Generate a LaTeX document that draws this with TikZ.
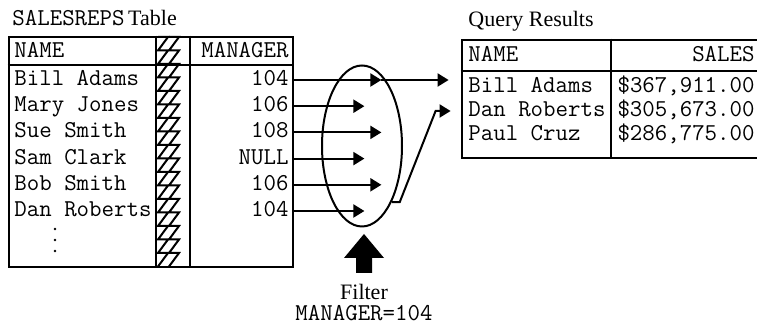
\documentclass[tikz,border=0pt]{standalone}
\usepackage{fontspec}
\setmainfont{Liberation Serif}
\usetikzlibrary{arrows.meta,positioning,shapes.geometric,calc}
\newcommand{\mono}{\ttfamily\fontsize{12.1}{13}\selectfont}
\tikzset{
    tbl/.style={ % table frame
        rectangle,
        draw=black,
        line width=1.4pt,
        inner sep=0pt
        },
    cell/.style={ % text of one cell
        font=\mono,
        text height=7.5pt,
        text depth=2pt,
        inner sep=0pt
        },
    lcell/.style={
        cell,
        anchor=west
        },
    rcell/.style={
        cell,
        anchor=east
        },
    capt/.style={ % serif caption
        font=\fontsize{11}{13}\selectfont,
        inner sep=0pt
        },
    grid/.style={
        line width=1.4pt
        },
    zz/.style={ % broken column
        line width=1pt,
        line join=miter
        },
    arrout/.style={
        line width=1pt,
        -{Triangle[length=5.5pt,width=6.5pt]}
        },
    filt/.style={
        ellipse,
        draw=black,
        line width=1pt,
        minimum width=40pt,
        minimum height=80.5pt,
        inner sep=0pt
        }
}
\begin{document}
\begin{tikzpicture}[x=0.5pt,y=-0.5pt]
\useasboundingbox (0,0) rectangle (757,325);
\clip (0,0) rectangle (757,325);

%%%%% table SALESREPS
\node[tbl, minimum width=142pt, minimum height=115pt] (reps) at (151,152) {};
\node[capt, anchor=base west] (lreps) at (12,26) {{\mono SALESREPS}\,Table};
\coordinate (c1) at (156,0);
\coordinate (c2) at (190,0);
\coordinate (hd) at (0,65);
\draw[grid] (reps.west |- hd) -- (reps.east |- hd);
\draw[grid] (reps.north -| c1) -- (reps.south -| c1);
\draw[grid] (reps.north -| c2) -- (reps.south -| c2);

%%%%% broken columns
\foreach \zx in {158,169}
  \draw[zz] (\zx,37) \foreach \k in {1,...,17} { -- ++(10,0) -- ++(-10,13.5) };

%%%%% rows of SALESREPS
\node[lcell] (hn) at (14,52) {NAME};
\node[rcell] (hm) at (289,52) {MANAGER};
\foreach \nm/\mg [count=\i] in {Bill Adams/104, Mary Jones/106, Sue Smith/108,
                                Sam Clark/NULL, Bob Smith/106, Dan Roberts/104} {
  \node[lcell] (n\i) at (14,{53.8+26.2*\i}) {\nm};
  \node[rcell] (m\i) at (289,{53.8+26.2*\i}) {\mg};
}
\foreach \dy in {229,240,251}
  \fill (55,\dy) circle (1.3);

%%%%% table of query results
\node[tbl, minimum width=150pt, minimum height=59pt] (res) at (612,99) {};
\node[capt, anchor=base west] (lres) at (468,27) {Query Results};
\coordinate (c3) at (611,0);
\coordinate (rh) at (0,71);
\draw[grid] (res.west |- rh) -- (res.east |- rh);
\draw[grid] (res.north -| c3) -- (res.south -| c3);

%%%%% rows of query results
\node[lcell] (rn) at (468,56) {NAME};
\node[rcell] (rs) at (755,56) {SALES};
\node[lcell] (r1) at (468,87) {Bill Adams};
\node[rcell] (s1) at (755,87) {\$367,911.00};
\node[lcell] (r2) at (468,111) {Dan Roberts};
\node[rcell] (s2) at (755,111) {\$305,673.00};
\node[lcell] (r3) at (468,135) {Paul Cruz};
\node[rcell] (s3) at (755,135) {\$286,775.00};

%%%%% filter
\node[filt] (flt) at (362,146) {};
\foreach \i/\len in {1/87,2/70,3/87,4/70,5/87,6/70}
  \draw[arrout] (reps.east |- m\i) -- ++(\len,0) coordinate (t\i);
\draw[arrout, shorten >=6pt] (t1) -- (res.west |- t1);
\draw[arrout] (flt.-62) -- ++(8,0) -- ($(res.west |- r2)+(-25,0)$)
  -- ($(res.west |- r2)+(-10,0)$);

%%%%% filter condition
\coordinate (up) at (364,234);
\fill (up) -- ++(20,24) -- ++(-12,0) -- ++(0,15) -- ++(-16,0) -- ++(0,-15) -- ++(-12,0) -- cycle;
\node[capt] (fname) at (364,292) {Filter};
\node[cell] (fcond) at (364,315) {MANAGER=104};

\end{tikzpicture}
\end{document}
